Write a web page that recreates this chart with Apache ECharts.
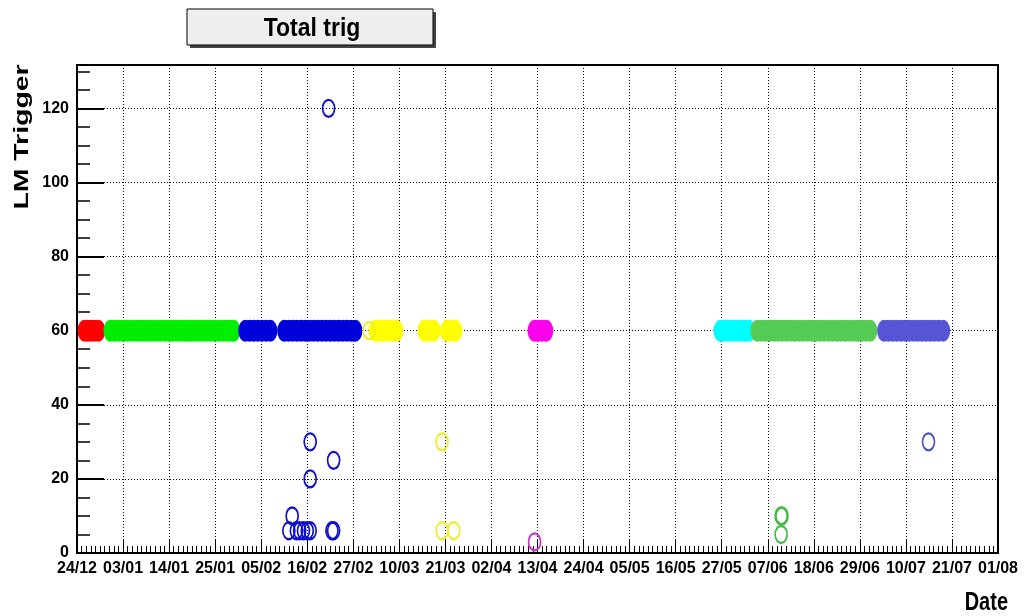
<!DOCTYPE html>
<html>
<head>
<meta charset="utf-8">
<script src="https://cdn.jsdelivr.net/npm/echarts@6/dist/echarts.min.js"></script>
<style>html,body{margin:0;padding:0;background:#fff}#c{width:1035px;height:616px}</style>
</head>
<body>
<div id="c"></div>
<script>
// x: axis position in days from the 24/12 tick; y: LM Trigger value
const xTickLabels = ['24/12','03/01','14/01','25/01','05/02','16/02','27/02','10/03','21/03','02/04','13/04','24/04','05/05','16/05','27/05','07/06','18/06','29/06','10/07','21/07','01/08'];
const xTickStep = 11;

const redBand = [[1.8,60],[2.6,60],[3.4,60],[4.2,60],[5.1,60]];
const greenBand = [[8,60],[9,60],[10,60],[11,60],[12,60],[13,60],[14,60],[15,60],[16,60],[17,60],[18,60],[19,60],[20,60],[21,60],[22,60],[23,60],[24,60],[25,60],[26,60],[27,60],[28,60],[29,60],[30,60],[31,60],[32,60],[33,60],[34,60],[35,60],[36,60],[37,60],[37.4,60]];
const blueBand = [[40.2,60],[41.2,60],[42.2,60],[43.2,60],[44.2,60],[45.2,60],[46.2,60],[49.5,60],[50.5,60],[51.5,60],[52.5,60],[53.5,60],[54.5,60],[55.5,60],[56.5,60],[57.5,60],[58.5,60],[59.5,60],[60.5,60],[61.5,60],[62.5,60],[63.5,60],[64.5,60],[65.5,60],[66.5,60]];
const blueOut = [[50.6,6],[52.4,6],[53.2,6],[54.1,6],[55.0,6],[55.7,6],[60.9,6],[61.3,6],[51.4,10],[55.7,20],[55.7,30],[61.3,25],[60.1,120]];
const yellowBand = [[71.3,60],[72.3,60],[73.3,60],[74.3,60],[75.3,60],[76.3,60],[83.0,60],[84.0,60],[85.2,60],[88.4,60],[89.4,60],[90.4,60]];
const yellowOut = [[69.8,60],[87.2,30],[87.2,6],[90.0,6]];
const magentaBand = [[109.3,60],[110.2,60],[111.1,60],[112.1,60]];
const magentaOut = [[109.3,3]];
const cyanBand = [[153.7,60],[154.7,60],[155.7,60],[156.7,60],[157.7,60],[158.7,60],[159.7,60],[160.5,60]];
const green2Band = [[162.5,60],[163.5,60],[164.5,60],[165.5,60],[166.5,60],[167.5,60],[168.5,60],[169.5,60],[170.5,60],[171.5,60],[172.5,60],[173.5,60],[174.5,60],[175.5,60],[176.5,60],[177.5,60],[178.5,60],[179.5,60],[180.5,60],[181.5,60],[182.5,60],[183.5,60],[184.5,60],[185.5,60],[186.5,60],[187.5,60],[188.5,60],[189.5,60]];
const green2Out = [[168.2,10],[168.4,10],[168.2,5]];
const slateBand = [[192.8,60],[193.8,60],[194.8,60],[195.8,60],[196.8,60],[197.8,60],[198.8,60],[199.8,60],[200.8,60],[201.8,60],[202.8,60],[203.8,60],[204.8,60],[205.8,60],[206.9,60]];
const slateOut = [[203.4,30]];

const SANS = "'Liberation Sans',Arial,sans-serif";
const BAND_SIZE = [14, 22];
const OUT_SIZE = [12, 17];

function band(data, color) {
  return { type: 'scatter', data: data, symbol: 'circle', symbolSize: BAND_SIZE,
    itemStyle: { color: color, opacity: 1 }, silent: true };
}
function out(data, color) {
  return { type: 'scatter', data: data, symbol: 'circle', symbolSize: OUT_SIZE,
    itemStyle: { color: 'rgba(0,0,0,0)', borderColor: color, borderWidth: 2, opacity: 1 }, silent: true };
}

const chart = echarts.init(document.getElementById('c'), null, { renderer: 'canvas' });
chart.setOption({
  animation: false,
  backgroundColor: '#ffffff',
  grid: { left: 77, right: 37, top: 65, bottom: 63, show: true, borderColor: '#000', borderWidth: 2, backgroundColor: 'transparent' },
  xAxis: {
    type: 'value', min: 0, max: xTickStep * (xTickLabels.length - 1), interval: xTickStep,
    axisLine: { show: true, lineStyle: { color: '#000', width: 2 } },
    axisTick: { show: true, inside: true, length: 14, lineStyle: { color: '#000', width: 1 } },
    minorTick: { show: true, splitNumber: 10, length: 7, lineStyle: { color: '#000', width: 1 } },
    splitLine: { show: true, lineStyle: { color: '#000', width: 1, type: [1, 2] } },
    axisLabel: { formatter: function (v) { return xTickLabels[Math.round(v / xTickStep)] || ''; },
      showMinLabel: true, showMaxLabel: true,
      color: '#000', fontFamily: SANS, fontWeight: 'bold', fontSize: 16, margin: 8 }
  },
  yAxis: {
    type: 'value', min: 0, max: 131.7, interval: 20,
    axisLine: { show: true, lineStyle: { color: '#000', width: 2 } },
    axisTick: { show: true, inside: true, length: 27, lineStyle: { color: '#000', width: 2 } },
    minorTick: { show: true, splitNumber: 4, length: 13, lineStyle: { color: '#000', width: 1.5 } },
    splitLine: { show: true, lineStyle: { color: '#000', width: 1, type: [1, 2] } },
    axisLabel: { color: '#000', fontFamily: SANS, fontWeight: 'bold', fontSize: 16, margin: 8, showMaxLabel: false, showMinLabel: true }
  },
  graphic: [
    { type: 'rect', shape: { x: 190, y: 12, width: 246, height: 36 }, style: { fill: '#444' }, z: 10 },
    { type: 'rect', shape: { x: 187, y: 9, width: 246, height: 36 }, style: { fill: '#efefef', stroke: '#000', lineWidth: 1 }, z: 11 },
    { type: 'text', x: 312, y: 29, scaleY: 1.12, z: 12, style: { text: 'Total trig', fill: '#000', font: "bold 23px 'Liberation Sans',Arial,sans-serif", textAlign: 'center', textVerticalAlign: 'middle' } },
    { type: 'text', x: 22, y: 137, rotation: Math.PI / 2, scaleX: 1.42, z: 12, style: { text: 'LM Trigger', fill: '#000', font: "bold 20px 'Liberation Sans',Arial,sans-serif", textAlign: 'center', textVerticalAlign: 'middle' } },
    { type: 'text', x: 1008, y: 603, scaleY: 1.3, z: 12, style: { text: 'Date', fill: '#000', font: "bold 20px 'Liberation Sans',Arial,sans-serif", textAlign: 'right', textVerticalAlign: 'middle' } }
  ],
  series: [
    band(redBand, '#ff0000'),
    band(greenBand, '#00ee00'),
    band(blueBand, '#0000dd'),
    out(blueOut, '#1010cc'),
    band(yellowBand, '#ffff00'),
    out(yellowOut, '#eeee22'),
    band(magentaBand, '#ff00ee'),
    out(magentaOut, '#cc33cc'),
    band(cyanBand, '#00ffff'),
    band(green2Band, '#55cc55'),
    out(green2Out, '#44bb44'),
    band(slateBand, '#5555d5'),
    out(slateOut, '#5050c0')
  ]
});
</script>
</body>
</html>
